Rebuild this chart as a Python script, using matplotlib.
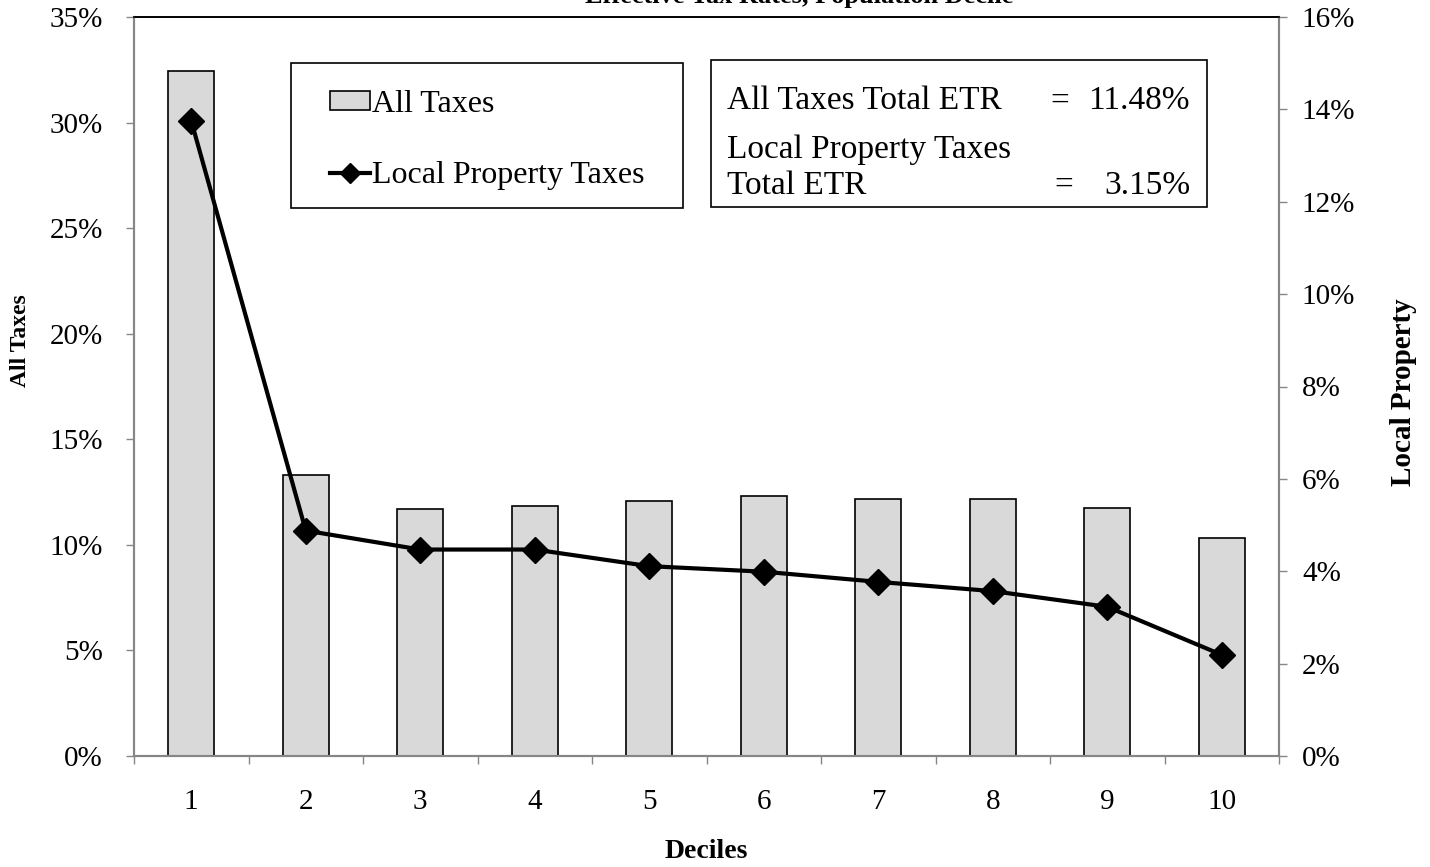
import numpy as np
import matplotlib
matplotlib.use("Agg")
from matplotlib import pyplot as plt
from matplotlib.ticker import FuncFormatter, FixedLocator

plt.rcParams['font.family'] = ['Liberation Serif', 'DejaVu Serif']

deciles = [1, 2, 3, 4, 5, 6, 7, 8, 9, 10]
all_taxes = [32.44, 13.31, 11.70, 11.84, 12.09, 12.30, 12.16, 12.16, 11.76, 10.31]
local_property = [13.75, 4.88, 4.47, 4.47, 4.11, 3.99, 3.77, 3.57, 3.23, 2.19]
left_ticks = [0, 5, 10, 15, 20, 25, 30, 35]
right_ticks = [0, 2, 4, 6, 8, 10, 12, 14, 16]

title = "Effective Tax Rates, Population Decile"
all_etr = "11.48%"
local_etr = "3.15%"

W, H = 1430, 867
fig = plt.figure(figsize=(W / 100, H / 100), dpi=100)
ax = fig.add_axes([134 / W, 1 - 756 / H, (1279 - 134) / W, (756 - 17) / H])
ax2 = ax.twinx()

grey = '#868686'
pct = FuncFormatter(lambda v, p: "%d%%" % round(v))

ax.bar(deciles, all_taxes, width=0.4, color='#d9d9d9', edgecolor='black',
       linewidth=1.2, label='All Taxes', zorder=2)
ax2.plot(deciles, local_property, color='black', linewidth=3, marker='D',
         markersize=13, label='Local Property Taxes', zorder=3)

ax.set_xlim(0.5, 10.5)
ax.set_ylim(0, 35)
ax2.set_ylim(0, 16)
ax.set_yticks(left_ticks)
ax2.set_yticks(right_ticks)
ax.yaxis.set_major_formatter(pct)
ax2.yaxis.set_major_formatter(pct)
ax.set_xticks(deciles)
ax.set_xticklabels([str(d) for d in deciles])
ax.xaxis.set_minor_locator(FixedLocator(np.arange(0.5, 11, 1)))
ax.tick_params(axis='x', which='major', length=0, pad=24, labelsize=21)
ax.tick_params(axis='x', which='minor', length=6, color=grey, width=1)
ax.tick_params(axis='y', length=5.5, color=grey, width=1, labelsize=21, pad=16.8)
ax2.tick_params(axis='y', length=5.5, color=grey, width=1, labelsize=21, pad=11)

for a in (ax, ax2):
    for side in ('left', 'right', 'bottom'):
        a.spines[side].set_color(grey)
        a.spines[side].set_linewidth(1.5)
    a.spines['top'].set_color('black')
    a.spines['top'].set_linewidth(1.2)

pw, ph = 1279 - 134, 756 - 17
ax.set_xlabel("Deciles", fontsize=20, fontweight='bold')
ax.set_ylabel("All Taxes", fontsize=17, fontweight='bold')
ax2.set_ylabel("Local Property", fontsize=21, fontweight='bold')
ax.yaxis.set_label_coords((31 - 134) / pw, 1 - (341 - 17) / ph)
ax2.yaxis.set_label_coords((1390 - 134) / pw, 1 - (392 - 17) / ph)
ax.xaxis.set_label_coords(0.5, -(839 - 756) / ph)

fig.text(799 / W, 1 - 3 / H, title, ha='center', va='baseline',
         fontsize=19, fontweight='bold')

# legend: frameless, with its own box drawn around it
h1, l1 = ax.get_legend_handles_labels()
h2, l2 = ax2.get_legend_handles_labels()
leg = ax2.legend(h1 + h2, l1 + l2, loc='center left',
                 bbox_to_anchor=((330 - 134) / pw, 1 - (140 - 17) / ph),
                 fontsize=23, frameon=False, borderpad=0, labelspacing=1.33,
                 handlelength=1.25, handleheight=0.5, handletextpad=0.05,
                 borderaxespad=0, markerscale=0.75)
fig.patches.append(plt.Rectangle((291 / W, 1 - 208 / H), (683 - 291) / W, (208 - 63) / H,
                                 transform=fig.transFigure, facecolor='none',
                                 edgecolor='black', linewidth=1.2, zorder=5))

# summary box
fig.patches.append(plt.Rectangle((711 / W, 1 - 207 / H), (1207 - 711) / W, (207 - 60) / H,
                                 transform=fig.transFigure, facecolor='white',
                                 edgecolor='black', linewidth=1.2, zorder=5))
fs = 24
fig.text(727 / W, 1 - 101 / H, "All Taxes Total ETR", ha='left', va='center', fontsize=fs, zorder=6)
fig.text(1060 / W, 1 - 101 / H, "=", ha='center', va='center', fontsize=fs, zorder=6)
fig.text(1190 / W, 1 - 101 / H, all_etr, ha='right', va='center', fontsize=fs, zorder=6)
fig.text(727 / W, 1 - 150 / H, "Local Property Taxes", ha='left', va='center', fontsize=fs, zorder=6)
fig.text(727 / W, 1 - 186 / H, "Total ETR", ha='left', va='center', fontsize=fs, zorder=6)
fig.text(1064 / W, 1 - 186 / H, "=", ha='center', va='center', fontsize=fs, zorder=6)
fig.text(1190 / W, 1 - 186 / H, local_etr, ha='right', va='center', fontsize=fs, zorder=6)

fig.savefig("out.png", dpi=100)
